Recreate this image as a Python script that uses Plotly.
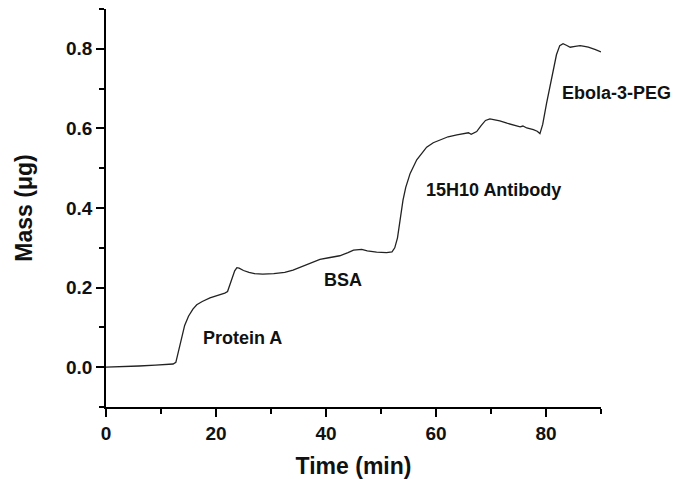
import plotly.graph_objects as go

time_min = [0, 3, 6, 9, 12.2, 12.7, 13.2, 13.8, 14.3, 15.0, 15.8, 16.5, 17.5, 18.9, 20.3, 21.6,
            22.1, 22.5, 22.9, 23.4, 23.8, 24.2, 25.0, 26.0, 27.0, 28.5, 30.5, 32.5, 34.0, 35.5,
            37.0, 38.9, 40.5, 42.5, 44.0, 45.0, 46.5, 47.5, 49.2, 51.0, 52.0, 52.5, 53.0, 53.5,
            54.0, 54.5, 55.3, 56.5, 57.5, 58.3, 59.5, 60.7, 62.2, 63.8, 65.0, 65.9, 66.4, 67.4,
            68.2, 69.0, 69.8, 70.5, 71.6, 72.9, 74.1, 75.3, 75.8, 76.5, 77.7, 78.4, 78.9, 79.4,
            80.1, 80.7, 81.3, 81.9, 82.5, 83.1, 83.7, 84.4, 85.3, 86.2, 87.0, 87.7, 89.0, 90.0]
mass_ug = [0.0, 0.001, 0.003, 0.005, 0.008, 0.012, 0.04, 0.078, 0.105, 0.128, 0.146, 0.157, 0.165,
           0.174, 0.18, 0.186, 0.19, 0.205, 0.222, 0.242, 0.25, 0.249, 0.243, 0.238, 0.235, 0.234,
           0.235, 0.238, 0.244, 0.252, 0.261, 0.271, 0.275, 0.280, 0.288, 0.294, 0.296, 0.292,
           0.289, 0.288, 0.290, 0.300, 0.325, 0.375, 0.42, 0.452, 0.487, 0.521, 0.540, 0.553,
           0.564, 0.571, 0.579, 0.584, 0.586, 0.589, 0.585, 0.592, 0.607, 0.62, 0.624, 0.622,
           0.619, 0.613, 0.608, 0.604, 0.606, 0.601, 0.597, 0.593, 0.587, 0.61, 0.663, 0.705,
           0.746, 0.785, 0.808, 0.813, 0.809, 0.804, 0.806, 0.808, 0.806, 0.804, 0.798, 0.792]

label_text = ["Protein A", "BSA", "15H10 Antibody", "Ebola-3-PEG"]
label_x = [24.9, 43.0, 70.4, 92.8]
label_y = [0.074, 0.219, 0.446, 0.688]

X_RANGE = [0, 90]
Y_RANGE = [-0.1, 0.9]
FONT = "Liberation Sans, Arial, sans-serif"

fig = go.Figure()
fig.add_trace(go.Scatter(x=time_min, y=mass_ug, mode="lines",
                         line=dict(color="#222222", width=1.3), showlegend=False))

for t, x, y in zip(label_text, label_x, label_y):
    fig.add_annotation(x=(x - X_RANGE[0]) / (X_RANGE[1] - X_RANGE[0]),
                       y=(y - Y_RANGE[0]) / (Y_RANGE[1] - Y_RANGE[0]),
                       text=t, showarrow=False, xref="paper", yref="paper",
                       xanchor="center", yanchor="middle",
                       font=dict(family=FONT, size=18, color="#111", weight="bold"))

axis_common = dict(showline=True, linecolor="black", linewidth=1.5, ticks="outside",
                   ticklen=8, tickwidth=1.5, tickcolor="black", showgrid=False, zeroline=False,
                   automargin=False,
                   tickfont=dict(family=FONT, size=19, color="#111", weight="bold"))

fig.update_xaxes(range=X_RANGE, dtick=20, tick0=0,
                 minor=dict(dtick=10, ticklen=5, tickwidth=1.5, tickcolor="black", ticks="outside"),
                 title=dict(text="Time (min)", font=dict(family=FONT, size=23, color="#111", weight="bold"),
                            standoff=18),
                 **axis_common)
fig.update_yaxes(range=Y_RANGE, dtick=0.2, tick0=0, tickformat=".1f",
                 minor=dict(dtick=0.1, ticklen=5, tickwidth=1.5, tickcolor="black", ticks="outside"),
                 title=dict(text="Mass (\u03bcg)", font=dict(family=FONT, size=23, color="#111", weight="bold"),
                            standoff=27),
                 **axis_common)

fig.update_layout(width=675, height=479, margin=dict(l=106, r=74, t=9, b=72),
                  paper_bgcolor="white", plot_bgcolor="white")

fig.write_html("out.html")
